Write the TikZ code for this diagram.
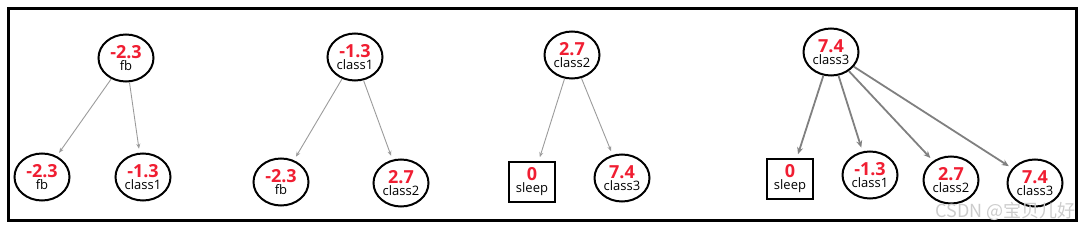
\documentclass[tikz,border=0pt]{standalone}
\usepackage{fontspec}
\setmainfont{Open Sans}
\newfontfamily\cjkfont{Noto Sans CJK SC}
\usetikzlibrary{shapes.geometric,arrows.meta}
\definecolor{valred}{RGB}{240,30,50}
\definecolor{thinarrow}{RGB}{155,155,155}
\definecolor{thickarrow}{RGB}{128,128,128}
\newcommand{\val}[2]{{\fontsize{18}{18}\selectfont\bfseries\color{valred}#1}\\{\fontsize{13}{15}\selectfont #2}}
\begin{document}
\begin{tikzpicture}[x=1pt,y=-1pt,
  state/.style={draw, ellipse, line width=2pt, minimum width=55pt, minimum height=47pt, inner sep=0pt, align=center},
  leaf/.style={draw, rectangle, line width=2pt, minimum width=46pt, minimum height=40pt, inner sep=0pt, align=center},
  thin edge/.style={-{Stealth[length=5pt,width=4pt]}, thinarrow, line width=0.9pt, shorten >=4pt},
  thick edge/.style={-{Stealth[length=7pt,width=6pt]}, thickarrow, line width=1.8pt, shorten >=4pt}]
 \useasboundingbox (0,0) rectangle (1084,229);
 \draw[line width=3pt] (8.5,8.5) rectangle (1076.5,221);
 % tree for fb
 \node[state] (fbroot) at (126,58) {\val{-2.3}{fb}};
 \node[state] (fbfb) at (42,177) {\val{-2.3}{fb}};
 \node[state] (fbclassa) at (143,177) {\val{-1.3}{class1}};
 \draw[thin edge] (fbroot) -- (fbfb);
 \draw[thin edge] (fbroot) -- (fbclassa);
 % tree for class1
 \node[state] (aroot) at (355,57) {\val{-1.3}{class1}};
 \node[state] (afb) at (281,182) {\val{-2.3}{fb}};
 \node[state] (aclassb) at (401,183) {\val{2.7}{class2}};
 \draw[thin edge] (aroot) -- (afb);
 \draw[thin edge] (aroot) -- (aclassb);
 % tree for class2
 \node[state] (broot) at (572,55) {\val{2.7}{class2}};
 \node[leaf] (bsleep) at (532,182) {\val{0}{sleep}};
 \node[state] (bclassc) at (622,178) {\val{7.4}{class3}};
 \draw[thin edge] (broot) -- (bsleep);
 \draw[thin edge] (broot) -- (bclassc);
 % tree for class3
 \node[state] (croot) at (831,52) {\val{7.4}{class3}};
 \node[leaf] (csleep) at (790,179) {\val{0}{sleep}};
 \node[state] (cclassa) at (870,175) {\val{-1.3}{class1}};
 \node[state] (cclassb) at (951,180) {\val{2.7}{class2}};
 \node[state] (cclassc) at (1035,183) {\val{7.4}{class3}};
 \draw[thick edge] (croot) -- (csleep);
 \draw[thick edge] (croot) -- (cclassa);
 \draw[thick edge] (croot) -- (cclassb);
 \draw[thick edge] (croot) -- (cclassc);
 \node[anchor=east, text=black!20, font=\cjkfont\fontsize{18}{18}\selectfont, inner sep=0pt] (watermark) at (1076,211) {CSDN @宝贝儿好};
\end{tikzpicture}
\end{document}
